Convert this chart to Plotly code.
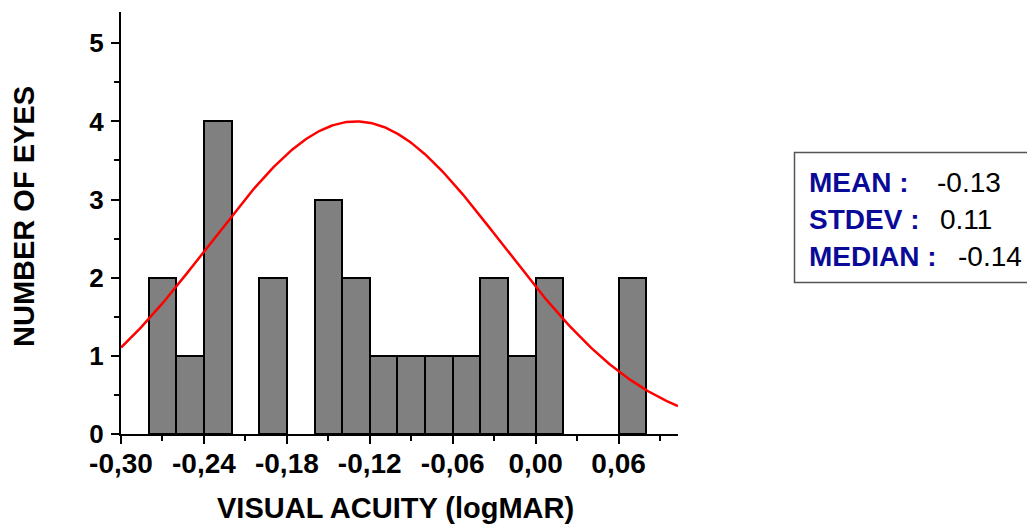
import numpy as np
import plotly.graph_objects as go

# Histogram of visual acuity (logMAR), bin width 0.02
bin_left = [-0.28, -0.26, -0.24, -0.22, -0.20, -0.18, -0.16, -0.14, -0.12,
            -0.10, -0.08, -0.06, -0.04, -0.02, 0.00, 0.02, 0.04, 0.06]
eye_counts = [2, 1, 4, 0, 2, 0, 3, 2, 1, 1, 1, 1, 2, 1, 2, 0, 0, 2]
bin_width = 0.02

# Fitted normal curve parameters
fit_mean = -0.13
fit_sd = 0.106
fit_peak = 4.0

# Summary statistics shown in the box
stat_names = ["MEAN :", "STDEV :", "MEDIAN :"]
stat_values = ["-0.13", "0.11", "-0.14"]

x_tickvals = [-0.30, -0.24, -0.18, -0.12, -0.06, 0.00, 0.06]
x_ticktext = ["-0,30", "-0,24", "-0,18", "-0,12", "-0,06", "0,00", "0,06"]
x_range = [-0.30, 0.103]
y_range = [0, 5.4]

FONT = "Liberation Sans, Arial, sans-serif"
W_TOT, H_TOT = 1027, 531
L, R, T, B = 121, 349, 12, 97
PW, PH = W_TOT - L - R, H_TOT - T - B


def px_x(p):
    return (p - L) / PW


def px_y(p):
    return (H_TOT - B - p) / PH


centers = [b + bin_width / 2 for b, c in zip(bin_left, eye_counts) if c > 0]
heights = [c for c in eye_counts if c > 0]

fig = go.Figure()
fig.add_trace(go.Bar(
    x=centers, y=heights, width=bin_width,
    marker=dict(color="#808080", line=dict(color="#000000", width=2)),
    hoverinfo="skip",
))

xc = np.linspace(x_range[0], x_range[1], 300)
yc = fit_peak * np.exp(-((xc - fit_mean) ** 2) / (2 * fit_sd ** 2))
fig.add_trace(go.Scatter(
    x=xc, y=yc, mode="lines",
    line=dict(color="#ff0000", width=2.5), hoverinfo="skip",
))

annotations = []
# Axis titles
annotations.append(dict(
    x=px_x(395), y=px_y(508), xref="paper", yref="paper",
    text="<b>VISUAL ACUITY (logMAR)</b>", showarrow=False,
    font=dict(family=FONT, size=29, color="#000000"),
    xanchor="center", yanchor="middle",
))
annotations.append(dict(
    x=px_x(24), y=px_y(217), xref="paper", yref="paper",
    text="<b>NUMBER OF EYES</b>", showarrow=False, textangle=-90,
    font=dict(family=FONT, size=29, color="#000000"),
    xanchor="center", yanchor="middle",
))

# Statistics box contents
row_centers = [182, 219, 256]
value_left = [935, 938, 956]
for name, val, yc_px, vx in zip(stat_names, stat_values, row_centers, value_left):
    annotations.append(dict(
        x=px_x(807), y=px_y(yc_px), xref="paper", yref="paper",
        text="<b>" + name + "</b>", showarrow=False,
        font=dict(family=FONT, size=28, color="#0a0a99"),
        xanchor="left", yanchor="middle",
    ))
    annotations.append(dict(
        x=px_x(vx), y=px_y(yc_px), xref="paper", yref="paper",
        text=val, showarrow=False,
        font=dict(family=FONT, size=28, color="#000000"),
        xanchor="left", yanchor="middle",
    ))

fig.update_layout(
    width=W_TOT, height=H_TOT,
    margin=dict(l=L, r=R, t=T, b=B, pad=0),
    paper_bgcolor="#ffffff", plot_bgcolor="#ffffff",
    showlegend=False, bargap=0,
    annotations=annotations,
    shapes=[dict(
        type="rect", xref="paper", yref="paper",
        x0=px_x(794.5), x1=px_x(1040), y0=px_y(282.5), y1=px_y(152.5),
        line=dict(color="#555555", width=1.5), fillcolor="rgba(0,0,0,0)",
    )],
    xaxis=dict(
        range=x_range, tickmode="array", tickvals=x_tickvals, ticktext=x_ticktext,
        showgrid=False, zeroline=False, showline=True, linecolor="#000000", linewidth=2,
        ticks="outside", ticklen=8, tickwidth=2, tickcolor="#000000",
        ticklabelstandoff=-5,
        tickfont=dict(family=FONT, size=28, color="#000000", weight="bold"),
        minor=dict(tick0=-0.30, dtick=0.03, ticks="outside", ticklen=5,
                   tickwidth=2, tickcolor="#000000", showgrid=False),
        fixedrange=True,
    ),
    yaxis=dict(
        range=y_range, tickmode="linear", tick0=0, dtick=1,
        showgrid=False, zeroline=False, showline=True, linecolor="#000000", linewidth=2,
        ticks="outside", ticklen=8, tickwidth=2, tickcolor="#000000",
        ticklabelstandoff=2,
        tickfont=dict(family=FONT, size=26, color="#000000", weight="bold"),
        minor=dict(tick0=0, dtick=0.5, ticks="outside", ticklen=5,
                   tickwidth=2, tickcolor="#000000", showgrid=False),
        fixedrange=True,
    ),
)

fig.write_html("out.html", config={"displayModeBar": False})
